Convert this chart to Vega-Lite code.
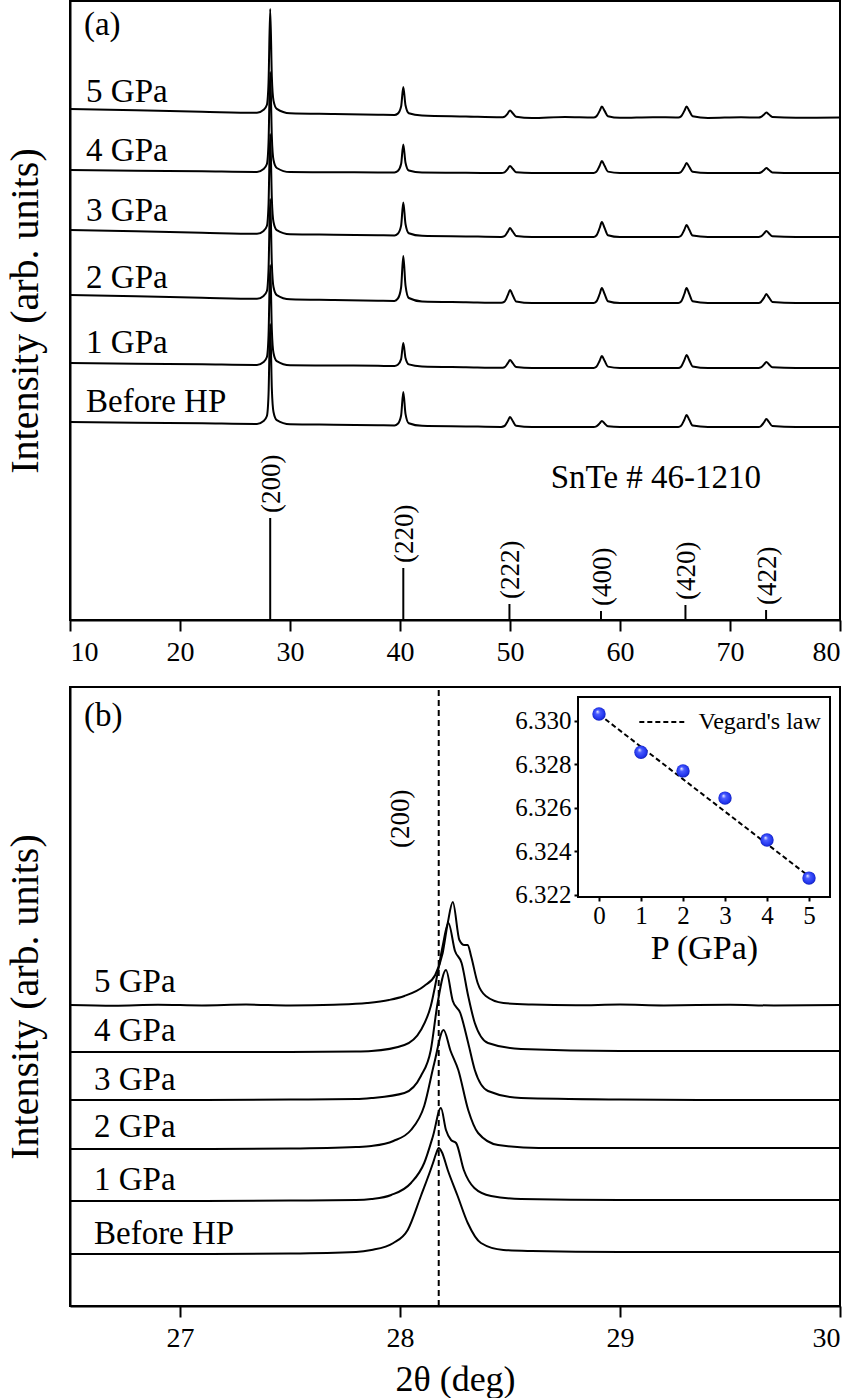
{
"$schema":"https://vega.github.io/schema/vega-lite/v6.json",
"padding":{"left":4,"top":0,"right":0,"bottom":0},
"spacing":18,
"config":{"font":"Liberation Serif","view":{"stroke":"black","strokeWidth":2},
"style":{"guide-label":{"font":"Liberation Serif","fill":"black"},"guide-title":{"font":"Liberation Serif","fill":"black","fontWeight":"normal"}},
"axis":{"domainColor":"black","domainWidth":2,"tickColor":"black","tickWidth":2,"labelColor":"black","titleColor":"black","labelFont":"Liberation Serif","titleFont":"Liberation Serif","grid":false,"titleFontWeight":"normal"},
"text":{"font":"Liberation Serif","color":"black"}},
"datasets":{
"a":[
{"s":"5","t":10,"v":511},{"s":"5","t":16,"v":509.7},{"s":"5","t":22,"v":508.3},{"s":"5","t":27,"v":507.2},{"s":"5","t":27.6,"v":510.2},{"s":"5","t":27.9,"v":515.3},{"s":"5","t":28.05,"v":538},{"s":"5","t":28.2,"v":611},{"s":"5","t":28.35,"v":543},{"s":"5","t":28.5,"v":519.4},{"s":"5","t":28.8,"v":511.1},{"s":"5","t":30,"v":506.7},{"s":"5","t":34,"v":506},{"s":"5","t":38,"v":505.3},{"s":"5","t":39.5,"v":505.1},{"s":"5","t":39.8,"v":506.4},{"s":"5","t":40.1,"v":513.4},{"s":"5","t":40.3,"v":533},{"s":"5","t":40.5,"v":514.7},{"s":"5","t":40.8,"v":506.8},{"s":"5","t":42,"v":504.5},{"s":"5","t":46,"v":503.5},{"s":"5","t":49.2,"v":502.7},{"s":"5","t":49.5,"v":503.3},{"s":"5","t":49.8,"v":506.7},{"s":"5","t":50,"v":509.5},{"s":"5","t":50.25,"v":506.7},{"s":"5","t":50.55,"v":503.3},{"s":"5","t":52,"v":502},{"s":"5","t":55,"v":503},{"s":"5","t":57.6,"v":502.5},{"s":"5","t":57.85,"v":503.6},{"s":"5","t":58.15,"v":509.1},{"s":"5","t":58.35,"v":513.5},{"s":"5","t":58.6,"v":509.1},{"s":"5","t":58.9,"v":503.8},{"s":"5","t":60,"v":502.2},{"s":"5","t":63,"v":502.8},{"s":"5","t":65.3,"v":502.5},{"s":"5","t":65.55,"v":503.6},{"s":"5","t":65.85,"v":509.1},{"s":"5","t":66.05,"v":513.5},{"s":"5","t":66.3,"v":509.1},{"s":"5","t":66.6,"v":503.8},{"s":"5","t":68,"v":502.1},{"s":"5","t":71,"v":502.7},{"s":"5","t":72.6,"v":502.5},{"s":"5","t":72.8,"v":503},{"s":"5","t":73.1,"v":505.5},{"s":"5","t":73.3,"v":507.5},{"s":"5","t":73.55,"v":505.5},{"s":"5","t":73.85,"v":503.1},{"s":"5","t":76,"v":502.3},{"s":"5","t":80,"v":502.4},
{"s":"4","t":10,"v":450},{"s":"4","t":16,"v":449.3},{"s":"4","t":22,"v":448.7},{"s":"4","t":27,"v":448.1},{"s":"4","t":27.6,"v":451},{"s":"4","t":27.9,"v":456},{"s":"4","t":28.05,"v":478},{"s":"4","t":28.2,"v":548},{"s":"4","t":28.35,"v":483},{"s":"4","t":28.5,"v":460},{"s":"4","t":28.8,"v":452},{"s":"4","t":30,"v":447.9},{"s":"4","t":34,"v":447.8},{"s":"4","t":38,"v":447.6},{"s":"4","t":39.5,"v":447.5},{"s":"4","t":39.8,"v":448.9},{"s":"4","t":40.1,"v":455.9},{"s":"4","t":40.3,"v":475.5},{"s":"4","t":40.5,"v":457.3},{"s":"4","t":40.8,"v":449.5},{"s":"4","t":42,"v":447.4},{"s":"4","t":46,"v":447.2},{"s":"4","t":49.2,"v":447},{"s":"4","t":49.5,"v":447.7},{"s":"4","t":49.8,"v":451.2},{"s":"4","t":50,"v":454},{"s":"4","t":50.25,"v":451.2},{"s":"4","t":50.55,"v":447.8},{"s":"4","t":52,"v":447},{"s":"4","t":55,"v":447},{"s":"4","t":57.6,"v":447},{"s":"4","t":57.85,"v":448.2},{"s":"4","t":58.15,"v":454.2},{"s":"4","t":58.35,"v":459},{"s":"4","t":58.6,"v":454.2},{"s":"4","t":58.9,"v":448.4},{"s":"4","t":60,"v":447},{"s":"4","t":63,"v":447},{"s":"4","t":65.3,"v":447},{"s":"4","t":65.55,"v":448},{"s":"4","t":65.85,"v":453},{"s":"4","t":66.05,"v":457},{"s":"4","t":66.3,"v":453},{"s":"4","t":66.6,"v":448.2},{"s":"4","t":68,"v":447},{"s":"4","t":71,"v":447},{"s":"4","t":72.6,"v":447},{"s":"4","t":72.8,"v":447.5},{"s":"4","t":73.1,"v":450},{"s":"4","t":73.3,"v":452},{"s":"4","t":73.55,"v":450},{"s":"4","t":73.85,"v":447.6},{"s":"4","t":76,"v":447},{"s":"4","t":80,"v":447},
{"s":"3","t":10,"v":390},{"s":"3","t":16,"v":388.7},{"s":"3","t":22,"v":387.3},{"s":"3","t":27,"v":386.2},{"s":"3","t":27.6,"v":389.1},{"s":"3","t":27.9,"v":394},{"s":"3","t":28.05,"v":416},{"s":"3","t":28.2,"v":486},{"s":"3","t":28.35,"v":421},{"s":"3","t":28.5,"v":398},{"s":"3","t":28.8,"v":389.9},{"s":"3","t":30,"v":385.8},{"s":"3","t":34,"v":385.3},{"s":"3","t":38,"v":384.8},{"s":"3","t":39.5,"v":384.6},{"s":"3","t":39.8,"v":386.2},{"s":"3","t":40.1,"v":394.4},{"s":"3","t":40.3,"v":417.5},{"s":"3","t":40.5,"v":396},{"s":"3","t":40.8,"v":386.8},{"s":"3","t":42,"v":384.2},{"s":"3","t":46,"v":383.6},{"s":"3","t":49.2,"v":383.1},{"s":"3","t":49.5,"v":383.9},{"s":"3","t":49.8,"v":388.4},{"s":"3","t":50,"v":392},{"s":"3","t":50.25,"v":388.4},{"s":"3","t":50.55,"v":384.1},{"s":"3","t":52,"v":383},{"s":"3","t":55,"v":383},{"s":"3","t":57.6,"v":383},{"s":"3","t":57.85,"v":384.5},{"s":"3","t":58.15,"v":392},{"s":"3","t":58.35,"v":398},{"s":"3","t":58.6,"v":392},{"s":"3","t":58.9,"v":384.8},{"s":"3","t":60,"v":383},{"s":"3","t":63,"v":383},{"s":"3","t":65.3,"v":383},{"s":"3","t":65.55,"v":384.2},{"s":"3","t":65.85,"v":390.2},{"s":"3","t":66.05,"v":395},{"s":"3","t":66.3,"v":390.2},{"s":"3","t":66.6,"v":384.4},{"s":"3","t":68,"v":383},{"s":"3","t":71,"v":383},{"s":"3","t":72.6,"v":383},{"s":"3","t":72.8,"v":383.6},{"s":"3","t":73.1,"v":386.6},{"s":"3","t":73.3,"v":389},{"s":"3","t":73.55,"v":386.6},{"s":"3","t":73.85,"v":383.7},{"s":"3","t":76,"v":383},{"s":"3","t":80,"v":383},
{"s":"2","t":10,"v":325},{"s":"2","t":16,"v":323.7},{"s":"2","t":22,"v":322.3},{"s":"2","t":27,"v":321.2},{"s":"2","t":27.6,"v":324.1},{"s":"2","t":27.9,"v":329},{"s":"2","t":28.05,"v":351},{"s":"2","t":28.2,"v":421},{"s":"2","t":28.35,"v":356},{"s":"2","t":28.5,"v":333},{"s":"2","t":28.8,"v":324.9},{"s":"2","t":30,"v":320.7},{"s":"2","t":34,"v":320},{"s":"2","t":38,"v":319.3},{"s":"2","t":39.5,"v":319.1},{"s":"2","t":39.8,"v":321.3},{"s":"2","t":40.1,"v":332.5},{"s":"2","t":40.3,"v":364},{"s":"2","t":40.5,"v":334.7},{"s":"2","t":40.8,"v":322},{"s":"2","t":42,"v":318.6},{"s":"2","t":46,"v":317.8},{"s":"2","t":49.2,"v":317.2},{"s":"2","t":49.5,"v":318.3},{"s":"2","t":49.8,"v":324.8},{"s":"2","t":50,"v":330},{"s":"2","t":50.25,"v":324.8},{"s":"2","t":50.55,"v":318.6},{"s":"2","t":52,"v":317},{"s":"2","t":55,"v":317},{"s":"2","t":57.6,"v":317},{"s":"2","t":57.85,"v":318.5},{"s":"2","t":58.15,"v":326},{"s":"2","t":58.35,"v":332},{"s":"2","t":58.6,"v":326},{"s":"2","t":58.9,"v":318.8},{"s":"2","t":60,"v":317},{"s":"2","t":63,"v":317},{"s":"2","t":65.3,"v":317},{"s":"2","t":65.55,"v":318.5},{"s":"2","t":65.85,"v":326},{"s":"2","t":66.05,"v":332},{"s":"2","t":66.3,"v":326},{"s":"2","t":66.6,"v":318.8},{"s":"2","t":68,"v":317},{"s":"2","t":71,"v":317},{"s":"2","t":72.6,"v":317},{"s":"2","t":72.8,"v":317.9},{"s":"2","t":73.1,"v":322.4},{"s":"2","t":73.3,"v":326},{"s":"2","t":73.55,"v":322.4},{"s":"2","t":73.85,"v":318.1},{"s":"2","t":76,"v":317},{"s":"2","t":80,"v":317},
{"s":"1","t":10,"v":257},{"s":"1","t":16,"v":256.3},{"s":"1","t":22,"v":255.7},{"s":"1","t":27,"v":255.1},{"s":"1","t":27.6,"v":258},{"s":"1","t":27.9,"v":263},{"s":"1","t":28.05,"v":285},{"s":"1","t":28.2,"v":355},{"s":"1","t":28.35,"v":290},{"s":"1","t":28.5,"v":267},{"s":"1","t":28.8,"v":258.9},{"s":"1","t":30,"v":254.8},{"s":"1","t":34,"v":254.5},{"s":"1","t":38,"v":254.2},{"s":"1","t":39.5,"v":254},{"s":"1","t":39.8,"v":255.2},{"s":"1","t":40.1,"v":260.9},{"s":"1","t":40.3,"v":277},{"s":"1","t":40.5,"v":262},{"s":"1","t":40.8,"v":255.6},{"s":"1","t":42,"v":253.6},{"s":"1","t":46,"v":252.8},{"s":"1","t":49.2,"v":252.2},{"s":"1","t":49.5,"v":252.8},{"s":"1","t":49.8,"v":256.8},{"s":"1","t":50,"v":260},{"s":"1","t":50.25,"v":256.8},{"s":"1","t":50.55,"v":253},{"s":"1","t":52,"v":252},{"s":"1","t":55,"v":252},{"s":"1","t":57.6,"v":252},{"s":"1","t":57.85,"v":253.2},{"s":"1","t":58.15,"v":259.2},{"s":"1","t":58.35,"v":264},{"s":"1","t":58.6,"v":259.2},{"s":"1","t":58.9,"v":253.4},{"s":"1","t":60,"v":252},{"s":"1","t":63,"v":252},{"s":"1","t":65.3,"v":252},{"s":"1","t":65.55,"v":253.3},{"s":"1","t":65.85,"v":259.8},{"s":"1","t":66.05,"v":265},{"s":"1","t":66.3,"v":259.8},{"s":"1","t":66.6,"v":253.6},{"s":"1","t":68,"v":252},{"s":"1","t":71,"v":252},{"s":"1","t":72.6,"v":252},{"s":"1","t":72.8,"v":252.6},{"s":"1","t":73.1,"v":255.6},{"s":"1","t":73.3,"v":258},{"s":"1","t":73.55,"v":255.6},{"s":"1","t":73.85,"v":252.7},{"s":"1","t":76,"v":252},{"s":"1","t":80,"v":252},
{"s":"0","t":10,"v":198},{"s":"0","t":16,"v":197.3},{"s":"0","t":22,"v":196.7},{"s":"0","t":27,"v":196.1},{"s":"0","t":27.6,"v":199},{"s":"0","t":27.9,"v":204},{"s":"0","t":28.05,"v":226},{"s":"0","t":28.2,"v":296},{"s":"0","t":28.35,"v":231},{"s":"0","t":28.5,"v":208},{"s":"0","t":28.8,"v":199.9},{"s":"0","t":30,"v":195.8},{"s":"0","t":34,"v":195.3},{"s":"0","t":38,"v":194.8},{"s":"0","t":39.5,"v":194.6},{"s":"0","t":39.8,"v":196.2},{"s":"0","t":40.1,"v":204.5},{"s":"0","t":40.3,"v":228},{"s":"0","t":40.5,"v":206.2},{"s":"0","t":40.8,"v":196.8},{"s":"0","t":42,"v":194.2},{"s":"0","t":46,"v":193.6},{"s":"0","t":49.2,"v":193.1},{"s":"0","t":49.5,"v":194},{"s":"0","t":49.8,"v":199},{"s":"0","t":50,"v":203},{"s":"0","t":50.25,"v":199},{"s":"0","t":50.55,"v":194.2},{"s":"0","t":52,"v":193},{"s":"0","t":55,"v":193},{"s":"0","t":57.6,"v":193},{"s":"0","t":57.85,"v":193.6},{"s":"0","t":58.15,"v":196.6},{"s":"0","t":58.35,"v":199},{"s":"0","t":58.6,"v":196.6},{"s":"0","t":58.9,"v":193.7},{"s":"0","t":60,"v":193},{"s":"0","t":63,"v":193},{"s":"0","t":65.3,"v":193},{"s":"0","t":65.55,"v":194.2},{"s":"0","t":65.85,"v":200.2},{"s":"0","t":66.05,"v":205},{"s":"0","t":66.3,"v":200.2},{"s":"0","t":66.6,"v":194.4},{"s":"0","t":68,"v":193},{"s":"0","t":71,"v":193},{"s":"0","t":72.6,"v":193},{"s":"0","t":72.8,"v":193.8},{"s":"0","t":73.1,"v":197.8},{"s":"0","t":73.3,"v":201},{"s":"0","t":73.55,"v":197.8},{"s":"0","t":73.85,"v":193.9},{"s":"0","t":76,"v":193},{"s":"0","t":80,"v":193}
],
"sticks":[{"t":28.2,"b":0,"h":102,"hkl":"(200)"},{"t":40.3,"b":0,"h":52,"hkl":"(220)"},{"t":49.95,"b":0,"h":16,"hkl":"(222)"},{"t":58.27,"b":0,"h":9,"hkl":"(400)"},{"t":65.95,"b":0,"h":15,"hkl":"(420)"},{"t":73.28,"b":0,"h":10,"hkl":"(422)"}],
"a_labels":[{"label":"(a)","t":11.27,"v":585},{"label":"5 GPa","t":11.46,"v":518},{"label":"4 GPa","t":11.46,"v":459},{"label":"3 GPa","t":11.46,"v":399},{"label":"2 GPa","t":11.46,"v":332},{"label":"1 GPa","t":11.46,"v":267},{"label":"Before HP","t":11.46,"v":208},{"label":"SnTe # 46-1210","t":53.7,"v":132}],
"b":[
{"s":"0","t":26.5,"v":52},{"s":"0","t":27,"v":52},{"s":"0","t":27.5,"v":52.5},{"s":"0","t":27.8,"v":54},{"s":"0","t":27.87,"v":56},{"s":"0","t":27.97,"v":63},{"s":"0","t":28.035,"v":76},{"s":"0","t":28.095,"v":110},{"s":"0","t":28.15,"v":143},{"s":"0","t":28.165,"v":153},{"s":"0","t":28.176,"v":158},{"s":"0","t":28.19,"v":154},{"s":"0","t":28.217,"v":136},{"s":"0","t":28.262,"v":110},{"s":"0","t":28.308,"v":83},{"s":"0","t":28.368,"v":63},{"s":"0","t":28.47,"v":56},{"s":"0","t":28.6,"v":55},{"s":"0","t":29,"v":54},{"s":"0","t":29.5,"v":54},{"s":"0","t":30,"v":54},
{"s":"1","t":26.5,"v":105},{"s":"1","t":27,"v":105},{"s":"1","t":27.5,"v":105.5},{"s":"1","t":27.8,"v":106},{"s":"1","t":27.87,"v":107},{"s":"1","t":27.96,"v":111},{"s":"1","t":28.05,"v":123},{"s":"1","t":28.11,"v":143},{"s":"1","t":28.15,"v":170},{"s":"1","t":28.186,"v":198},{"s":"1","t":28.209,"v":176},{"s":"1","t":28.232,"v":166},{"s":"1","t":28.255,"v":163},{"s":"1","t":28.29,"v":136},{"s":"1","t":28.338,"v":118},{"s":"1","t":28.414,"v":110},{"s":"1","t":28.55,"v":107},{"s":"1","t":29,"v":106},{"s":"1","t":29.5,"v":106},{"s":"1","t":30,"v":106},
{"s":"2","t":26.5,"v":157},{"s":"2","t":27,"v":157},{"s":"2","t":27.5,"v":157.5},{"s":"2","t":27.8,"v":159},{"s":"2","t":27.87,"v":160},{"s":"2","t":27.97,"v":165},{"s":"2","t":28.05,"v":176},{"s":"2","t":28.11,"v":200},{"s":"2","t":28.156,"v":243},{"s":"2","t":28.198,"v":276},{"s":"2","t":28.23,"v":255},{"s":"2","t":28.265,"v":236},{"s":"2","t":28.31,"v":196},{"s":"2","t":28.355,"v":173},{"s":"2","t":28.446,"v":161},{"s":"2","t":28.63,"v":158},{"s":"2","t":29,"v":158},{"s":"2","t":29.5,"v":158},{"s":"2","t":30,"v":158},
{"s":"3","t":26.5,"v":206},{"s":"3","t":27,"v":206},{"s":"3","t":27.5,"v":206.5},{"s":"3","t":27.8,"v":207},{"s":"3","t":27.87,"v":208},{"s":"3","t":28.02,"v":213},{"s":"3","t":28.095,"v":230},{"s":"3","t":28.14,"v":256},{"s":"3","t":28.171,"v":303},{"s":"3","t":28.209,"v":336},{"s":"3","t":28.24,"v":305},{"s":"3","t":28.274,"v":293},{"s":"3","t":28.31,"v":263},{"s":"3","t":28.34,"v":236},{"s":"3","t":28.4,"v":215},{"s":"3","t":28.55,"v":208},{"s":"3","t":29,"v":206.5},{"s":"3","t":29.5,"v":206},{"s":"3","t":30,"v":206},
{"s":"4","t":26.5,"v":254},{"s":"4","t":27,"v":254},{"s":"4","t":27.5,"v":254},{"s":"4","t":27.8,"v":254.5},{"s":"4","t":27.87,"v":255},{"s":"4","t":28.02,"v":261},{"s":"4","t":28.095,"v":276},{"s":"4","t":28.14,"v":300},{"s":"4","t":28.171,"v":333},{"s":"4","t":28.194,"v":360},{"s":"4","t":28.22,"v":383},{"s":"4","t":28.25,"v":355},{"s":"4","t":28.28,"v":343},{"s":"4","t":28.31,"v":310},{"s":"4","t":28.34,"v":283},{"s":"4","t":28.4,"v":263},{"s":"4","t":28.55,"v":257},{"s":"4","t":29,"v":255},{"s":"4","t":29.5,"v":255},{"s":"4","t":30,"v":255},
{"s":"5","t":26.5,"v":301},{"s":"5","t":26.7,"v":300.3},{"s":"5","t":26.9,"v":301.2},{"s":"5","t":27.1,"v":300.6},{"s":"5","t":27.3,"v":301.4},{"s":"5","t":27.5,"v":300.5},{"s":"5","t":27.7,"v":301.3},{"s":"5","t":27.85,"v":303},{"s":"5","t":27.95,"v":306},{"s":"5","t":28.02,"v":310},{"s":"5","t":28.11,"v":320},{"s":"5","t":28.16,"v":331},{"s":"5","t":28.194,"v":353},{"s":"5","t":28.217,"v":383},{"s":"5","t":28.24,"v":404},{"s":"5","t":28.27,"v":366},{"s":"5","t":28.292,"v":361},{"s":"5","t":28.308,"v":361},{"s":"5","t":28.323,"v":350},{"s":"5","t":28.353,"v":323},{"s":"5","t":28.39,"v":310},{"s":"5","t":28.47,"v":303},{"s":"5","t":28.6,"v":301.5},{"s":"5","t":28.8,"v":300.8},{"s":"5","t":29,"v":301.4},{"s":"5","t":29.2,"v":300.6},{"s":"5","t":29.5,"v":301.2},{"s":"5","t":29.7,"v":300.5},{"s":"5","t":30,"v":301}
],
"b_labels":[{"label":"(b)","t":26.564,"v":580},{"label":"5 GPa","t":26.609,"v":314},{"label":"4 GPa","t":26.609,"v":265},{"label":"3 GPa","t":26.609,"v":216},{"label":"2 GPa","t":26.609,"v":169},{"label":"1 GPa","t":26.609,"v":116},{"label":"Before HP","t":26.609,"v":62}],
"lattice":[{"P":0,"a":6.33032},{"P":1,"a":6.32856},{"P":2,"a":6.3277},{"P":3,"a":6.32645},{"P":4,"a":6.32452},{"P":5,"a":6.32277}],
"vegard":[{"P":0,"a":6.3303},{"P":5,"a":6.32285}],
"legend_key":[{"P":0.96,"P2":2.03,"a":6.32995}],
"legend_text":[{"P":2.37,"a":6.32995,"label":"Vegard's law"}]
},
"vconcat":[
{"width":770,"height":619,
"layer":[
{"data":{"name":"a"},"mark":{"type":"line","color":"black","strokeWidth":2,"strokeJoin":"round","interpolate":"monotone"},
"encoding":{"x":{"field":"t","type":"quantitative","scale":{"domain":[10,80],"nice":false,"zero":false},"axis":{"values":[10,20,30,40,50,60,70,80],"title":null,"tickSize":11,"labelFont":"Liberation Serif","labelFontSize":28,"labelPadding":7}},
"y":{"field":"v","type":"quantitative","scale":{"domain":[0,619],"nice":false,"zero":false},"axis":{"title":"Intensity (arb. units)","titleFont":"Liberation Serif","titleFontWeight":"normal","labels":false,"ticks":false,"titleFontSize":40,"titlePadding":25}},
"detail":{"field":"s","type":"nominal"}}},
{"data":{"name":"sticks"},"mark":{"type":"rule","color":"black","strokeWidth":2},"encoding":{"x":{"field":"t","type":"quantitative"},"y":{"field":"b","type":"quantitative"},"y2":{"field":"h"}}},
{"data":{"name":"sticks"},"mark":{"type":"text","angle":270,"align":"left","baseline":"middle","dx":5,"dy":2,"fontSize":27},"encoding":{"x":{"field":"t","type":"quantitative"},"y":{"field":"h","type":"quantitative"},"text":{"field":"hkl","type":"nominal"}}},
{"data":{"name":"a_labels"},"mark":{"type":"text","align":"left","baseline":"alphabetic","fontSize":33},"encoding":{"x":{"field":"t","type":"quantitative"},"y":{"field":"v","type":"quantitative"},"text":{"field":"label","type":"nominal"}}}
]},
{"width":770,"height":619,
"layer":[
{"data":{"name":"b"},"mark":{"type":"line","color":"black","strokeWidth":2,"strokeJoin":"round","interpolate":"monotone"},
"encoding":{"x":{"field":"t","type":"quantitative","scale":{"domain":[26.5,30],"nice":false,"zero":false},"axis":{"orient":"bottom","values":[27,28,29,30],"title":"2θ (deg)","labelFont":"Liberation Serif","titleFont":"Liberation Serif","titleFontWeight":"normal","tickSize":11,"labelFontSize":28,"labelPadding":7,"titleFontSize":36,"titlePadding":10}},
"y":{"field":"v","type":"quantitative","scale":{"domain":[0,619],"nice":false,"zero":false},"axis":{"orient":"left","title":"Intensity (arb. units)","titleFont":"Liberation Serif","titleFontWeight":"normal","labels":false,"ticks":false,"titleFontSize":40,"titlePadding":25}},
"detail":{"field":"s","type":"nominal"}}},
{"data":{"values":[{"t":28.176,"y1":0,"y2":619}]},"mark":{"type":"rule","color":"black","strokeWidth":2,"strokeDash":[6,4]},
"encoding":{"x":{"field":"t","type":"quantitative","scale":{"domain":[26.5,30],"nice":false,"zero":false},"axis":null},"y":{"field":"y1","type":"quantitative","scale":{"domain":[0,619],"nice":false,"zero":false},"axis":null},"y2":{"field":"y2"}}},
{"data":{"values":[{"t":28.005,"v":458,"label":"(200)"}]},"mark":{"type":"text","angle":270,"align":"left","baseline":"middle","fontSize":27},
"encoding":{"x":{"field":"t","type":"quantitative","scale":{"domain":[26.5,30],"nice":false,"zero":false},"axis":null},"y":{"field":"v","type":"quantitative","scale":{"domain":[0,619],"nice":false,"zero":false},"axis":null},"text":{"field":"label","type":"nominal"}}},
{"data":{"name":"b_labels"},"mark":{"type":"text","align":"left","baseline":"alphabetic","fontSize":33},
"encoding":{"x":{"field":"t","type":"quantitative","scale":{"domain":[26.5,30],"nice":false,"zero":false},"axis":null},"y":{"field":"v","type":"quantitative","scale":{"domain":[0,619],"nice":false,"zero":false},"axis":null},"text":{"field":"label","type":"nominal"}}},
{"data":{"values":[{"x1":-0.5,"x2":5.5,"y1":6.3219,"y2":6.3311}]},"mark":{"type":"rect","fill":"white","stroke":"black","strokeWidth":2},
"encoding":{"x":{"field":"x1","type":"quantitative","scale":{"domain":[-0.5,5.5],"range":[508,760],"nice":false,"zero":false},"axis":{"orient":"bottom","offset":-409,"values":[0,1,2,3,4,5],"title":"P (GPa)","labelFont":"Liberation Serif","titleFont":"Liberation Serif","titleFontWeight":"normal","domain":false,"tickSize":4,"labelFontSize":25,"labelPadding":2,"titleFontSize":34,"titlePadding":3}},
"x2":{"field":"x2"},
"y":{"field":"y1","type":"quantitative","scale":{"domain":[6.3219,6.3311],"range":[210,10],"nice":false,"zero":false},"axis":{"orient":"left","offset":-508,"values":[6.322,6.324,6.326,6.328,6.33],"format":".3f","title":null,"labelFont":"Liberation Serif","domain":false,"tickSize":4,"labelFontSize":25,"labelPadding":3}},
"y2":{"field":"y2"}}},
{"data":{"name":"vegard"},"mark":{"type":"line","color":"black","strokeWidth":2,"strokeDash":[5,3]},
"encoding":{"x":{"field":"P","type":"quantitative","scale":{"domain":[-0.5,5.5],"range":[508,760],"nice":false,"zero":false},"axis":null},"y":{"field":"a","type":"quantitative","scale":{"domain":[6.3219,6.3311],"range":[210,10],"nice":false,"zero":false},"axis":null}}},
{"data":{"name":"legend_key"},"mark":{"type":"rule","color":"black","strokeWidth":2,"strokeDash":[5,3]},
"encoding":{"x":{"field":"P","type":"quantitative","scale":{"domain":[-0.5,5.5],"range":[508,760],"nice":false,"zero":false},"axis":null},"x2":{"field":"P2"},"y":{"field":"a","type":"quantitative","scale":{"domain":[6.3219,6.3311],"range":[210,10],"nice":false,"zero":false},"axis":null}}},
{"data":{"name":"legend_text"},"mark":{"type":"text","align":"left","baseline":"middle","fontSize":24},
"encoding":{"x":{"field":"P","type":"quantitative","scale":{"domain":[-0.5,5.5],"range":[508,760],"nice":false,"zero":false},"axis":null},"y":{"field":"a","type":"quantitative","scale":{"domain":[6.3219,6.3311],"range":[210,10],"nice":false,"zero":false},"axis":null},"text":{"field":"label","type":"nominal"}}},
{"data":{"name":"lattice"},"mark":{"type":"point","filled":true,"size":180,"opacity":1,"strokeWidth":0,"fill":{"gradient":"radial","x1":0.38,"y1":0.32,"r1":0,"x2":0.5,"y2":0.5,"r2":0.55,"stops":[{"offset":0,"color":"#eef0ff"},{"offset":0.3,"color":"#4a5cff"},{"offset":0.75,"color":"#2236ee"},{"offset":1,"color":"#0a16a0"}]}},
"encoding":{"x":{"field":"P","type":"quantitative","scale":{"domain":[-0.5,5.5],"range":[508,760],"nice":false,"zero":false},"axis":null},"y":{"field":"a","type":"quantitative","scale":{"domain":[6.3219,6.3311],"range":[210,10],"nice":false,"zero":false},"axis":null}}}
],
"resolve":{"scale":{"x":"independent","y":"independent"},"axis":{"x":"independent","y":"independent"}}}
]
}
